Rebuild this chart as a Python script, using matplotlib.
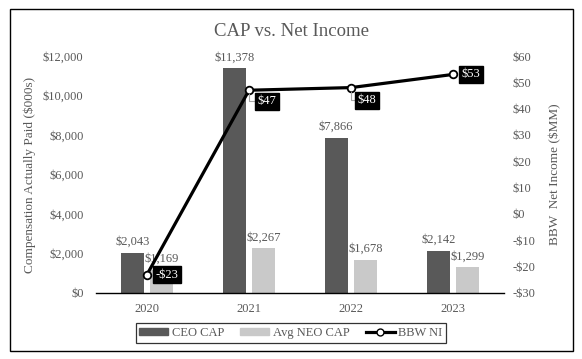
import matplotlib.pyplot as plt
import numpy as np
from matplotlib.lines import Line2D
from matplotlib.patches import Patch, Rectangle

plt.rcParams['font.family'] = ['Liberation Serif', 'DejaVu Serif']

years = ["2020", "2021", "2022", "2023"]
ceo_cap = [2043, 11378, 7866, 2142]
neo_cap = [1169, 2267, 1678, 1299]
bbw_ni = [-23, 47, 48, 53]

gray_text = "#595959"
ceo_color = "#595959"
neo_color = "#c9c9c9"

fig = plt.figure(figsize=(5.82, 3.59), dpi=100)
ax = fig.add_axes([0.165, 0.184, 0.701, 0.66])
ax2 = ax.twinx()

x = np.arange(len(years))
w = 0.225
off = 0.145

b1 = ax.bar(x - off, ceo_cap, w, color=ceo_color, zorder=2)
b2 = ax.bar(x + off, neo_cap, w, color=neo_color, zorder=2)

for rect, v in zip(b1, ceo_cap):
    ax.text(rect.get_x() + rect.get_width() / 2, v + 250, "${:,}".format(v),
            ha="center", va="bottom", fontsize=9, color=gray_text)
for rect, v in zip(b2, neo_cap):
    ax.text(rect.get_x() + rect.get_width() / 2, v + 250, "${:,}".format(v),
            ha="center", va="bottom", fontsize=9, color=gray_text)

ax.set_xlim(-0.5, 3.5)
ax.set_ylim(0, 12000)
ax.set_yticks(range(0, 12001, 2000))
ax.set_yticklabels(["${:,}".format(t) for t in range(0, 12001, 2000)])
ax.set_xticks(x)
ax.set_xticklabels(years)

ax2.set_ylim(-30, 60)
ticks2 = list(range(-30, 61, 10))
ax2.set_yticks(ticks2)
ax2.set_yticklabels([("-$%d" % -t) if t < 0 else ("$%d" % t) for t in ticks2])

ax2.plot(x, bbw_ni, color="black", lw=2.3, marker="o", markersize=5.5,
         markerfacecolor="white", markeredgecolor="black", markeredgewidth=1.3,
         zorder=5)

# NI labels
offsets = [(6, 0), (6, -8), (5, -9), (6, 0)]
for xi, v, (dx, dy) in zip(x, bbw_ni, offsets):
    lbl = ("-$%d" % -v) if v < 0 else ("$%d" % v)
    arrow = None
    if dy != 0:
        arrow = dict(arrowstyle="-", color="#a6a6a6", lw=0.8,
                     connectionstyle="angle,angleA=0,angleB=90,rad=0",
                     shrinkA=0, shrinkB=3)
    ax2.annotate(lbl, (xi, v), xytext=(dx, dy), textcoords="offset points",
                 ha="left", va="center", fontsize=9, color="white",
                 bbox=dict(boxstyle="square,pad=0.2", fc="black", ec="black"),
                 arrowprops=arrow, zorder=6)

for a in (ax, ax2):
    for s in ("top", "left", "right"):
        a.spines[s].set_visible(False)
    a.spines["bottom"].set_visible(False)
    a.tick_params(length=0, labelsize=9, labelcolor=gray_text)
ax.spines["bottom"].set_visible(True)
ax.spines["bottom"].set_color("black")
ax.spines["bottom"].set_linewidth(1.0)
ax.tick_params(axis="y", pad=9)
ax.tick_params(axis="x", pad=7)
ax2.tick_params(axis="y", pad=6)

ax.set_ylabel("Compensation Actually Paid ($000s)", fontsize=9.5, color=gray_text, labelpad=5)
ax2.set_ylabel("BBW  Net Income ($MM)", fontsize=9.5, color=gray_text, labelpad=10)

fig.suptitle("CAP vs. Net Income", y=0.935, fontsize=13.5, color=gray_text)

handles = [Patch(color=ceo_color), Patch(color=neo_color),
           Line2D([], [], color="black", lw=2.3, marker="o", markersize=5,
                  markerfacecolor="white", markeredgecolor="black")]
leg = fig.legend(handles, ["CEO CAP", "Avg NEO CAP", "BBW NI"], loc="center",
                 bbox_to_anchor=(0.5, 0.072), ncol=3, fontsize=9, frameon=True,
                 fancybox=False, edgecolor="black", handlelength=2.3,
                 handleheight=0.45, handletextpad=0.3, columnspacing=1.3,
                 borderpad=0.3)
leg.get_frame().set_linewidth(0.9)
for t in leg.get_texts():
    t.set_color(gray_text)

fig.patches.append(Rectangle((10 / 582, 1 - 351 / 359), 563 / 582, 342 / 359,
                             transform=fig.transFigure, fill=False,
                             ec="black", lw=1.0))

fig.savefig("out.png", dpi=100)
